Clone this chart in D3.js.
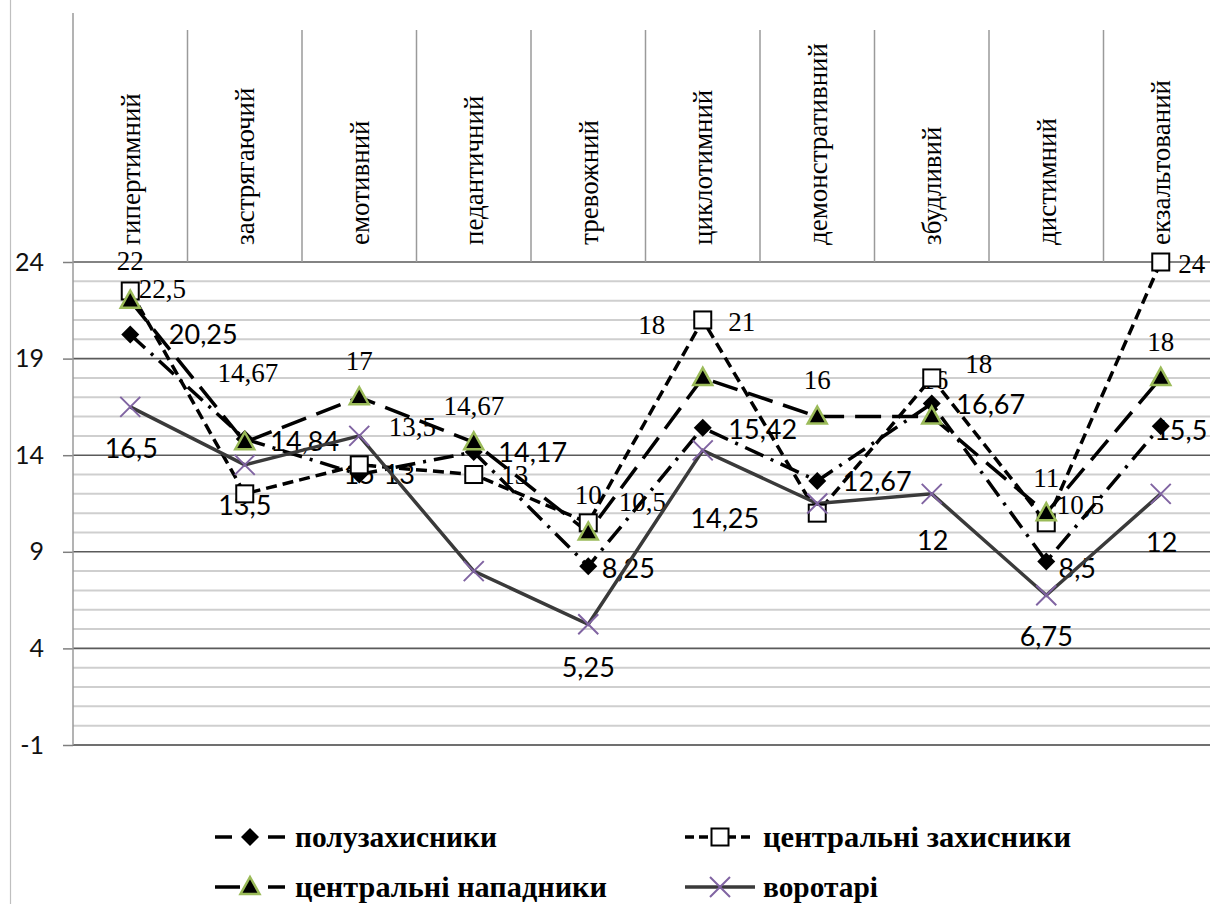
<!DOCTYPE html>
<html>
<head>
<meta charset="utf-8">
<script src="https://cdn.jsdelivr.net/npm/d3@7"></script>
<style>
  body { margin: 0; background: #fff; }
</style>
</head>
<body>
<div id="chart"></div>
<script>
// categories (accentuation types) and the four player groups
const categories = ["гипертимний", "застрягаючий", "емотивний", "педантичний", "тревожний",
    "циклотимний", "демонстративний", "збудливий", "дистимний", "екзальтований"];
const poluzakhysnyky = [20.25, 14.84, 13, 14.17, 8.25, 15.42, 12.67, 16.67, 8.5, 15.5];
const tsentrZakhysnyky = [22.5, 12, 13.5, 13, 10.5, 21, 11, 18, 10.5, 24];
const tsentrNapadnyky = [22, 14.67, 17, 14.67, 10, 18, 16, 16, 11, 18];
const vorotari = [16.5, 13.5, 15, 8, 5.25, 14.25, 11.5, 12, 6.75, 12];
const yTicks = [-1, 4, 9, 14, 19, 24];

// label nudges (dx, dy from the marker), null = no label shown
const poluLabelPos = [[73,0],[60,3],[40,0],[59,1],[40,2],[60,2],[60,1],[59,1],[31,7],[20,4]];
const zakhLabelPos = [[32,-2],null,[53,-38],[41,0],[54,-21],[39,2],null,[47,-14],[34,-18],[31,2]];
const napLabelPos = [[0,-40],[3,-70],[0,-37],[0,-37],[0,-38],[-51,-53],[0,-37],[3,-37],[0,-36],[0,-36]];
const vorLabelPos = [[1,42],[0,41],[0,39],null,[0,43],[22,68],null,[1,47],[0,41],[1,49]];

const series = [
    {name: "полузахисники", values: poluzakhysnyky, labels: poluLabelPos, marker: "diamond",
        dash: "20,8,3,8", legendDash: "17,36,17", color: "#000", font: "Lato"},
    {name: "центральні захисники", values: tsentrZakhysnyky, labels: zakhLabelPos, marker: "square",
        dash: "11,6", legendDash: "9,5", color: "#000", font: "'Liberation Serif'"},
    {name: "центральні нападники", values: tsentrNapadnyky, labels: napLabelPos, marker: "triangle",
        dash: "26,11", legendDash: "25,28,17", color: "#000", font: "'Liberation Serif'"},
    {name: "воротарі", values: vorotari, labels: vorLabelPos, marker: "cross",
        dash: null, legendDash: null, color: "#3a3a3a", font: "Lato"}
];

const W = 1210, H = 904;
const plotLeft = 73, plotTop = 262, plotBottom = 745, colW = 114.5;

const svg = d3.select("#chart").append("svg")
    .attr("width", W).attr("height", H)
    .style("font-family", "Lato");

const x = d3.scaleBand().domain(categories).range([plotLeft, plotLeft + colW * categories.length]).padding(0);
const cx = d => x(d) + x.bandwidth() / 2;
const y = d3.scaleLinear().domain([-1, 24]).range([plotBottom, plotTop]);

// outer frame line
svg.append("line").attr("x1", 10.5).attr("x2", 10.5).attr("y1", 0).attr("y2", H)
    .attr("stroke", "#bfbfbf").attr("stroke-width", 1.2);

// gridlines, minor every 1, major every 5
const grid = svg.append("g");
grid.selectAll("line.minor")
    .data(d3.range(-1, 25).filter(v => !yTicks.includes(v)))
    .join("line").attr("class", "minor")
    .attr("x1", plotLeft).attr("x2", W)
    .attr("y1", d => y(d)).attr("y2", d => y(d))
    .attr("stroke", "#cfcfcf").attr("stroke-width", 2);
grid.selectAll("line.major")
    .data(yTicks)
    .join("line").attr("class", "major")
    .attr("x1", plotLeft).attr("x2", W)
    .attr("y1", d => y(d)).attr("y2", d => y(d))
    .attr("stroke", d => d === -1 ? "#404040" : "#5a5a5a").attr("stroke-width", 1.6);

// y axis
const yAxis = svg.append("g")
    .attr("transform", "translate(" + plotLeft + ",0)")
    .call(d3.axisLeft(y).tickValues(yTicks).tickSize(10).tickPadding(19).tickFormat(d => d));
yAxis.select(".domain").remove();
yAxis.selectAll(".tick line").attr("stroke", "#7f7f7f").attr("stroke-width", 1.5);
yAxis.selectAll(".tick text").style("font-family", "Lato").style("font-size", "25px").attr("fill", "#111");
svg.append("line").attr("x1", plotLeft).attr("x2", plotLeft).attr("y1", 13).attr("y2", plotBottom)
    .attr("stroke", "#9a9a9a").attr("stroke-width", 1.5);

// category columns on top
svg.append("g").selectAll("line")
    .data(categories)
    .join("line")
    .attr("x1", d => x(d) + x.bandwidth()).attr("x2", d => x(d) + x.bandwidth())
    .attr("y1", 30).attr("y2", plotTop)
    .attr("stroke", "#9a9a9a").attr("stroke-width", 1.5);
svg.append("g").selectAll("text")
    .data(categories)
    .join("text")
    .attr("transform", d => "translate(" + cx(d) + ",245) rotate(-90)")
    .attr("dy", "0.35em")
    .style("font-family", "'Liberation Serif'")
    .style("font-size", "27px")
    .attr("fill", "#000")
    .text(d => d);

const fmt = v => String(v).replace(".", ",");

// data labels (drawn under lines and markers)
const labelG = svg.append("g");
series.forEach(s => {
    labelG.selectAll(null)
        .data(s.values.map((v, i) => ({v, i, off: s.labels[i]})).filter(d => d.off))
        .join("text")
        .attr("x", d => cx(categories[d.i]) + d.off[0])
        .attr("y", d => y(d.v) + d.off[1])
        .attr("text-anchor", "middle")
        .attr("dy", "0.35em")
        .style("font-family", s.font)
        .style("font-size", "27px")
        .attr("fill", "#000")
        .text(d => fmt(d.v));
});

// lines
const line = d3.line().x((d, i) => cx(categories[i])).y(d => y(d));
const lineG = svg.append("g");
series.forEach(s => {
    lineG.append("path")
        .datum(s.values)
        .attr("d", line)
        .attr("fill", "none")
        .attr("stroke", s.color)
        .attr("stroke-width", 3.5)
        .attr("stroke-dasharray", s.dash);
});

function drawMarker(g, type, px, py) {
    if (type === "diamond") {
        g.append("path").attr("d", "M0,-9L9,0L0,9L-9,0Z")
            .attr("transform", "translate(" + px + "," + py + ")")
            .attr("fill", "#000");
    } else if (type === "square") {
        g.append("rect").attr("x", px - 8.5).attr("y", py - 8.5).attr("width", 17).attr("height", 17)
            .attr("fill", "#fff").attr("stroke", "#000").attr("stroke-width", 2);
    } else if (type === "triangle") {
        g.append("path").attr("d", "M0,-10L9.5,7L-9.5,7Z")
            .attr("transform", "translate(" + px + "," + py + ")")
            .attr("fill", "#000").attr("stroke", "#9bbb59").attr("stroke-width", 2.5)
            .attr("stroke-linejoin", "miter");
    } else {
        g.append("path").attr("d", "M-10,-10L10,10M-10,10L10,-10")
            .attr("transform", "translate(" + px + "," + py + ")")
            .attr("stroke", "#8064a2").attr("stroke-width", 2);
    }
}

// markers
const markG = svg.append("g");
series.forEach(s => {
    s.values.forEach((v, i) => drawMarker(markG, s.marker, cx(categories[i]), y(v)));
});

// legend
const legendPos = [[250, 295, 837], [720, 763, 837], [250, 295, 887], [720, 763, 887]];
const legendW = [202, 308, 312, 115];
const legend = svg.append("g");
series.forEach((s, k) => {
    const [mx, tx, ly] = legendPos[k];
    legend.append("line")
        .attr("x1", mx - 35).attr("x2", mx + 35).attr("y1", ly).attr("y2", ly)
        .attr("stroke", s.color).attr("stroke-width", 3.5)
        .attr("stroke-dasharray", s.legendDash);
    drawMarker(legend, s.marker, mx, ly);
    legend.append("text")
        .attr("x", tx).attr("y", ly).attr("dy", "0.33em")
        .attr("textLength", legendW[k]).attr("lengthAdjust", "spacingAndGlyphs")
        .style("font-family", "'Liberation Serif'")
        .style("font-weight", "bold")
        .style("font-size", "30px")
        .attr("fill", "#000")
        .text(s.name);
});
</script>
</body>
</html>
